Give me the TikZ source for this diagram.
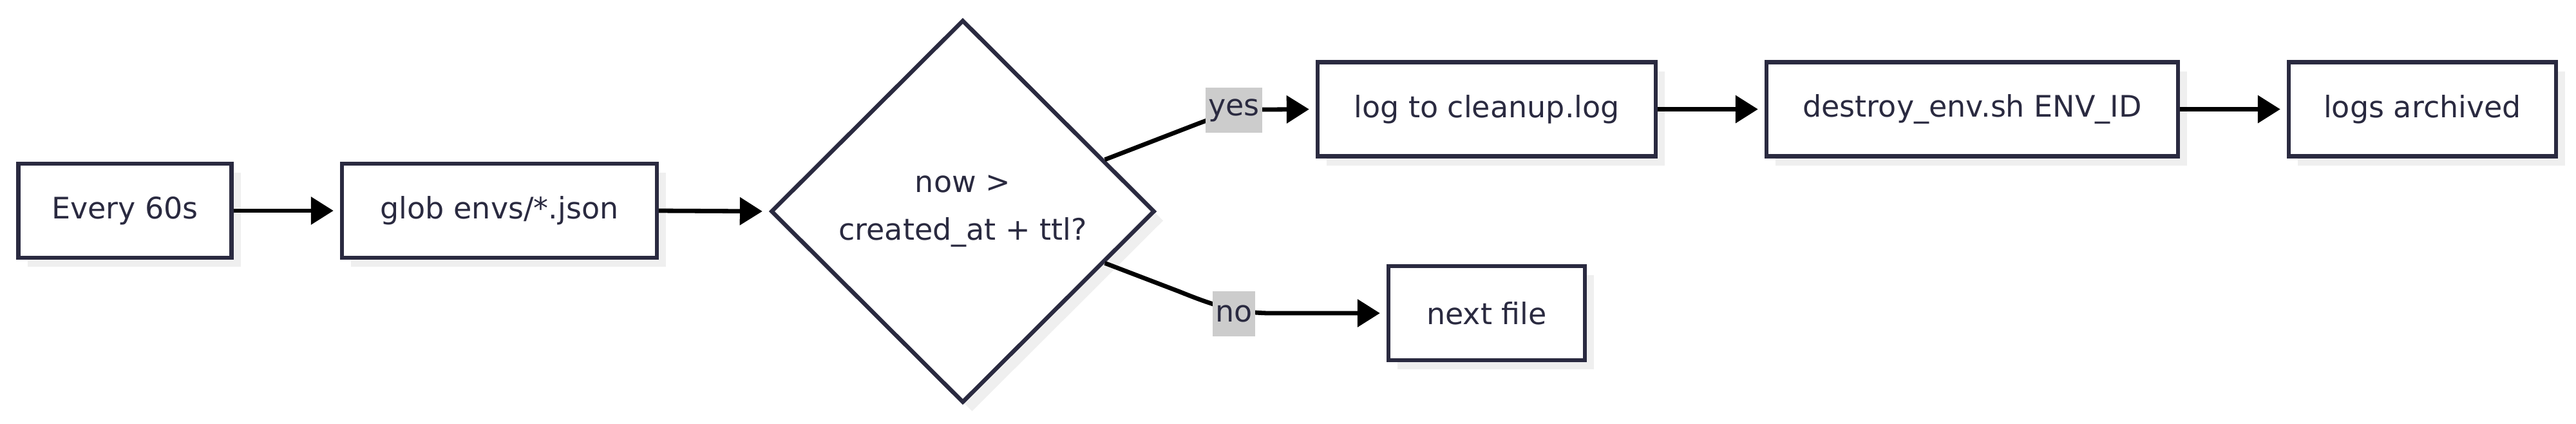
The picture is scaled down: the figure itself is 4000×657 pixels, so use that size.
\documentclass[tikz,border=0pt]{standalone}
\usepackage{fontspec}
\setmainfont{DejaVu Sans}
\usetikzlibrary{shapes.geometric,shadows,arrows.meta}
\definecolor{ink}{HTML}{2A2A40}
\definecolor{shade}{HTML}{EFEFEF}
\definecolor{lblbg}{HTML}{CCCCCC}
\begin{document}
\begin{tikzpicture}[x=0.25pt,y=-0.25pt,
  txt/.style={text=ink, font=\fontsize{11.5}{18.5}\selectfont},
  boxshadow/.style={drop shadow={shadow xshift=3.6pt, shadow yshift=-3.6pt, fill=shade, opacity=1}},
  box/.style={txt, draw=ink, line width=1.6pt, fill=white, inner sep=0pt, minimum height=36.5pt, boxshadow},
  decision/.style={txt, shape=diamond, draw=ink, line width=1.6pt, fill=white, inner sep=0pt, minimum width=149pt, minimum height=148.5pt, align=center, boxshadow},
  lbl/.style={txt, fill=lblbg, inner xsep=1pt, inner ysep=0pt, minimum height=17.5pt},
  edge/.style={draw=black, line width=1.7pt, shorten >=2.5pt, -{Triangle[length=8.75pt,width=10.5pt]}}
]
\useasboundingbox (0,0) rectangle (4000,657);
\node[box, minimum width=82.75pt] (every) at (194,327) {Every 60s};
\node[box, minimum width=122.25pt] (glob) at (775.5,327) {glob envs/*.json};
\node[decision] (dia) at (1495,328) {now >\\created\_at + ttl?};
\node[box, minimum width=131.25pt] (log) at (2308.5,169.5) {log to cleanup.log};
\node[box, minimum width=159.75pt] (destroy) at (3062.5,169.5) {destroy\_env.sh ENV\_ID};
\node[box, minimum width=103.75pt] (archived) at (3761.5,169.5) {logs archived};
\node[box, minimum width=76.25pt] (next) at (2308.5,486) {next file};

\draw[edge] (every.east) -- (glob.west);
\draw[edge] (glob.east) -- (dia.west);
\draw[edge] (dia.20) -- (1860,192) .. controls (1905,175) and (1925,170) .. (1965,170) -- (log.west);
\draw[edge] (dia.-20) -- (1830,452) .. controls (1880,472) and (1915,485) .. (1970,486) -- (next.west);
\draw[edge] (log.east) -- (destroy.west);
\draw[edge] (destroy.east) -- (archived.west);

\node[lbl] (yeslbl) at (1916,171) {yes};
\node[lbl] (nolbl) at (1916,487) {no};
\end{tikzpicture}
\end{document}
